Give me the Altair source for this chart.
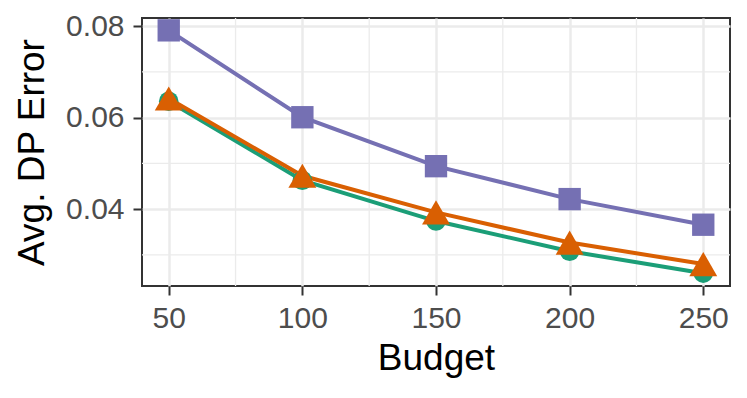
import altair as alt
import pandas as pd

budget = [50, 100, 150, 200, 250]
series_names = ["Method A", "Method B", "Method C"]
err_a = [0.0636, 0.0463, 0.0374, 0.0308, 0.0260]   # green circles
err_b = [0.0642, 0.0473, 0.0393, 0.0327, 0.0280]   # orange triangles
err_c = [0.0791, 0.0601, 0.0494, 0.0422, 0.0366]   # purple squares
colors = ["#1b9e77", "#d95f02", "#7570b3"]
shapes = ["circle", "triangle-up", "square"]
sizes = [380, 780, 500]

x_ticks = [50, 100, 150, 200, 250]
y_ticks = [0.04, 0.06, 0.08]
x_minor = [75, 125, 175, 225]
y_minor = [0.03, 0.05, 0.07]

rows = []
for name, vals in zip(series_names, [err_a, err_b, err_c]):
    for b, v in zip(budget, vals):
        rows.append({"series": name, "budget": b, "error": v})
df = pd.DataFrame(rows)

FONT = "Liberation Sans"
W, H = 588, 268
xs = alt.Scale(domain=[40, 260], nice=False, zero=False)
ys = alt.Scale(domain=[0.0232, 0.0818], nice=False, zero=False)

xaxis = alt.Axis(values=x_ticks, title="Budget", labelFontSize=30, titleFontSize=37,
                 labelColor="#4d4d4d", titleColor="#000000", titleFontWeight="normal",
                 labelFont=FONT, titleFont=FONT, tickColor="#333333", tickWidth=2, tickSize=9,
                 labelPadding=8, domain=False, grid=True, gridColor="#ebebeb", gridWidth=2.5,
                 titleBaseline="alphabetic", titleY=83, labelFlush=False)
yaxis = alt.Axis(values=y_ticks, title="Avg. DP Error", format=".2f", labelFontSize=30,
                 titleFontSize=37, labelColor="#4d4d4d", titleColor="#000000",
                 titleFontWeight="normal", labelFont=FONT, titleFont=FONT, tickColor="#333333",
                 tickWidth=2, tickSize=9, labelPadding=9, domain=False, grid=True,
                 gridColor="#ebebeb", gridWidth=2.5, titleBaseline="alphabetic", titleX=-99,
                 labelFlush=False)

minor_x = alt.Chart(pd.DataFrame({"v": x_minor})).mark_rule(color="#ebebeb", strokeWidth=1.3).encode(
    x=alt.X("v:Q", scale=xs))
minor_y = alt.Chart(pd.DataFrame({"v": y_minor})).mark_rule(color="#ebebeb", strokeWidth=1.3).encode(
    y=alt.Y("v:Q", scale=ys))

base = alt.Chart(df)
axis_layer = base.mark_point(opacity=0).encode(
    x=alt.X("budget:Q", scale=xs, axis=xaxis),
    y=alt.Y("error:Q", scale=ys, axis=yaxis),
)

lines = []
points = []
for name, c, sh, sz in zip(series_names, colors, shapes, sizes):
    sub = base.transform_filter(alt.datum.series == name)
    lines.append(sub.mark_line(color=c, strokeWidth=4).encode(
        x=alt.X("budget:Q", scale=xs), y=alt.Y("error:Q", scale=ys)))
    points.append(sub.mark_point(color=c, fill=c, filled=True, opacity=1, shape=sh, size=sz,
                                 strokeWidth=0).encode(
        x=alt.X("budget:Q", scale=xs), y=alt.Y("error:Q", scale=ys)))

chart = alt.layer(minor_x, minor_y, axis_layer, *lines, *points).properties(
    width=W, height=H,
    autosize=alt.AutoSizeParams(type="none"),
    padding={"left": 134, "top": 10, "right": 9, "bottom": 100},
    view=alt.ViewBackground(stroke="#333333", strokeWidth=2, strokeOpacity=1),
).configure_view(stroke="#333333", strokeWidth=2).configure(background="white")

chart.save("out.html", embed_options={"renderer": "svg", "actions": False})
